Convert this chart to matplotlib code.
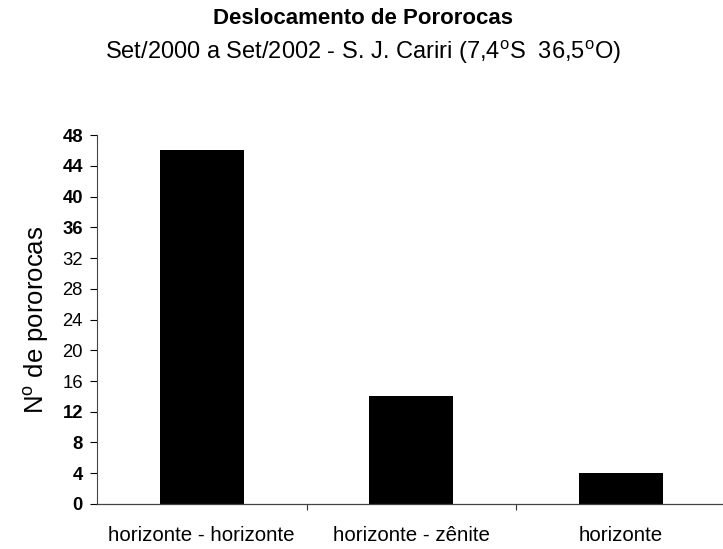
import matplotlib
matplotlib.use("Agg")
import matplotlib.pyplot as plt

categories = ["horizonte - horizonte", "horizonte - zênite", "horizonte"]
counts = [46, 14, 4]
yticks = [0, 4, 8, 12, 16, 20, 24, 28, 32, 36, 40, 44, 48]
bold_ticks = {0, 4, 8, 12, 36, 40, 44, 48}

plt.rcParams["font.family"] = ["Liberation Sans", "DejaVu Sans"]

fig = plt.figure(figsize=(7.23, 5.49), dpi=100)
ax = fig.add_axes([0.134, 0.082, 0.87, 0.672])

x = list(range(len(categories)))
ax.bar(x, counts, width=0.4, color="black")

ax.set_xlim(-0.5, 2.5)
ax.set_ylim(0, 48)
ax.set_yticks(yticks)
ax.set_yticklabels([str(v) for v in yticks], fontsize=13.3)
for lbl, v in zip(ax.get_yticklabels(), yticks):
    lbl.set_fontweight("bold" if v in bold_ticks else "normal")

ax.set_xticks([0.5, 1.5])
ax.set_xticklabels([])
ax.set_xticks(x, minor=True)
ax.set_xticklabels(categories, minor=True, fontsize=14.8)
ax.tick_params(axis="x", which="minor", length=0, pad=16)
ax.tick_params(axis="x", which="major", length=4, width=0.8, direction="out", colors="#333333")
ax.tick_params(axis="y", length=5, width=0.8, direction="out", pad=5)

for side in ("top", "right"):
    ax.spines[side].set_visible(False)
ax.spines["left"].set_color("#444444")
ax.spines["bottom"].set_color("#444444")
ax.spines["left"].set_linewidth(0.8)
ax.spines["bottom"].set_linewidth(0.9)

ax.set_ylabel(r"N$^{\mathregular{o}}$ de pororocas", fontsize=18.5, labelpad=8)

fig.text(0.502, 0.967, "Deslocamento de Pororocas", ha="center", va="center",
         fontsize=16, fontweight="bold")
fig.text(0.502, 0.905, r"Set/2000 a Set/2002 - S. J. Cariri (7,4$^{\mathregular{o}}$S  36,5$^{\mathregular{o}}$O)",
         ha="center", va="center", fontsize=17)

fig.savefig("out.png", dpi=100)
